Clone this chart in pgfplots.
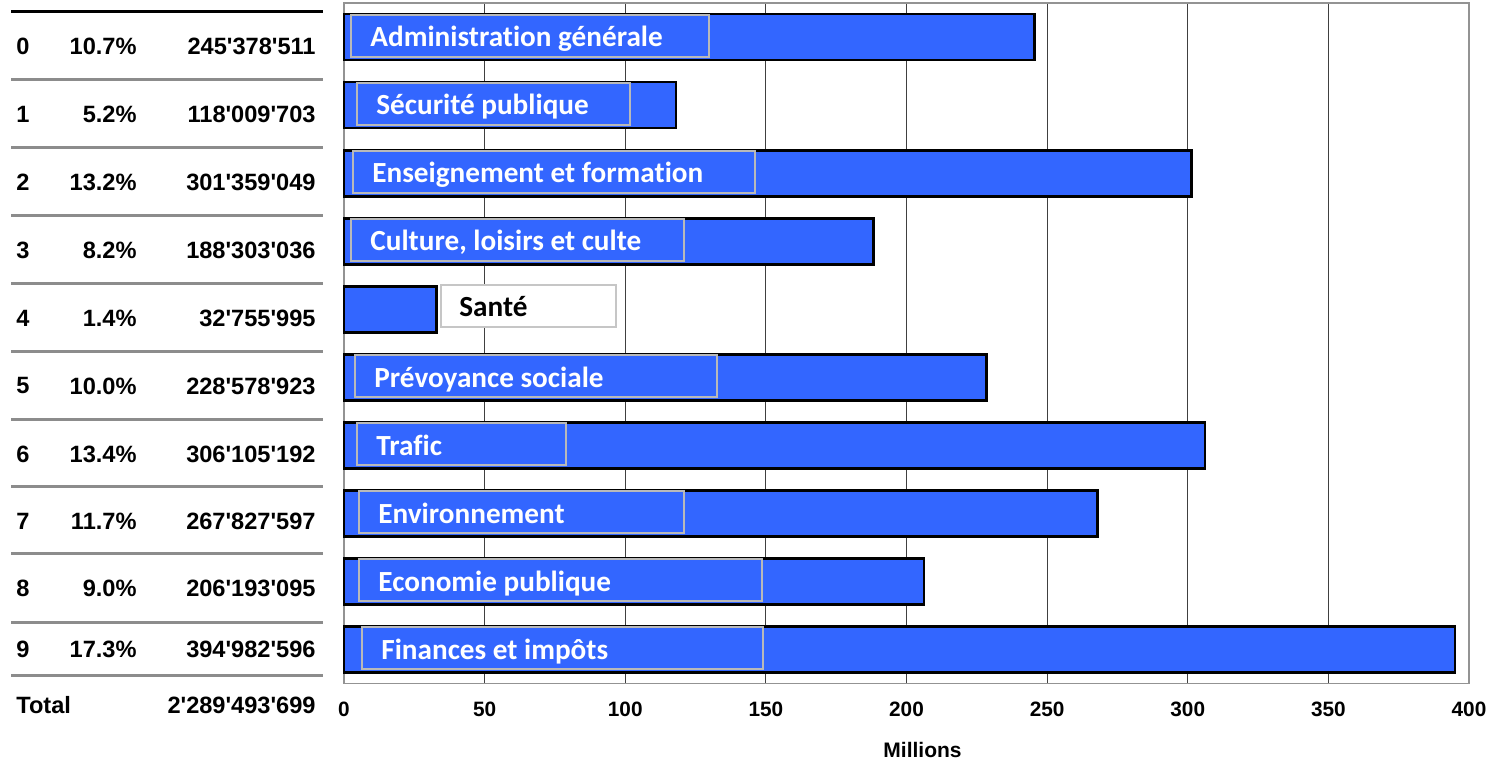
\documentclass[border=0pt]{standalone}
\usepackage{fontspec}
\setmainfont{Liberation Sans}
\newfontfamily\calib{Carlito}[Ligatures=NoCommon]
\usepackage{pgfplots}
\pgfplotsset{compat=1.18}
\definecolor{barblue}{HTML}{3366FF}
\tikzset{
  labbox/.style={anchor=west, draw=gray!55, line width=1pt, fill=barblue,
    inner sep=0pt, minimum height=21pt},
  labtxt/.style={anchor=base west, inner sep=0pt, text=white,
    font=\calib\fontsize{14.6}{16}\selectfont\bfseries}}
\newcommand\q{\textquotesingle}
\newcommand\lab[4]{%
  \node[labbox, minimum width=#2pt] (n#3) at ([xshift=#1pt, yshift=0.5pt]axis cs:0,#3) {};
  \node[labtxt] at ([xshift=10pt, yshift=-5.4pt]n#3.west) {#4};}
\begin{document}
\begin{tikzpicture}
\useasboundingbox (0,0) rectangle (746pt,381.5pt);
% left table
\draw[black, line width=1.5pt] (5.5pt,375.5pt) -- (161.5pt,375.5pt);
\foreach \y in {341.5,307.5,273.5,239.5,205.5,171.5,138,104.5,70,43.5}
  \draw[gray!90, line width=1.5pt] (5.5pt,\y pt) -- (161.5pt,\y pt);
\begin{scope}[every node/.style={inner sep=0pt, font=\fontsize{11.8}{14}\selectfont\bfseries}]
\foreach \i/\y/\p/\a in {0/358.5/10.7/245\q378\q511, 1/324.5/5.2/118\q009\q703, 2/290.5/13.2/301\q359\q049, 3/256.5/8.2/188\q303\q036, 4/222.5/1.4/32\q755\q995, 5/188.5/10.0/228\q578\q923, 6/154.5/13.4/306\q105\q192, 7/121/11.7/267\q827\q597, 8/87.25/9.0/206\q193\q095, 9/56.75/17.3/394\q982\q596}{
  \node[anchor=west] at (8pt,\y pt) {\i};
  \node[anchor=east] at (68.5pt,\y pt) {\p\%};
  \node[anchor=east] at (158pt,\y pt) {\a};
}
\node[anchor=west] at (8pt,29pt) {Total};
\node[anchor=east] at (158pt,29pt) {2\q289\q493\q699};
\end{scope}
\begin{axis}[
  at={(172pt,39.75pt)}, anchor=south west,
  scale only axis, width=562.5pt, height=340.25pt,
  xbar, bar width=23pt,
  xmin=0, xmax=400, ymin=-0.5, ymax=9.5, y dir=reverse,
  ytick=\empty, xtick={0,50,...,400},
  xmajorgrids, major grid style={black!75, line width=0.5pt},
  axis line style={draw=gray!85, line width=0.9pt},
  major tick length=0pt,
  /pgf/number format/assume math mode=true,
  xticklabel style={font=\fontsize{10.4}{12}\selectfont\bfseries, yshift=-5.5pt},
  xlabel={Millions},
  xlabel style={font=\fontsize{10.5}{12}\selectfont\bfseries, at={(axis description cs:0.5,0)}, anchor=center, yshift=-33.25pt, xshift=8pt},
  clip=false,
]
\addplot[fill=barblue, draw=black, line width=1.4pt] coordinates {
  (245.378511,0) (118.009703,1) (301.359049,2) (188.303036,3) (32.755995,4)
  (228.578923,5) (306.105192,6) (267.827597,7) (206.193095,8) (394.982596,9)};
\lab{3}{179}{0}{Administration générale}
\lab{6}{136.5}{1}{Sécurité publique}
\lab{4}{201}{2}{Enseignement et formation}
\lab{3}{166.5}{3}{Culture, loisirs et culte}
\node[labbox, minimum width=87.5pt, fill=white, draw=gray!45] (n4) at ([xshift=48pt, yshift=1.5pt]axis cs:0,4) {};
\node[labtxt, text=black] at ([xshift=9.5pt, yshift=-5.2pt]n4.west) {Santé};
\lab{5}{181}{5}{Prévoyance sociale}
\lab{6}{104.5}{6}{Trafic}
\lab{7}{162.5}{7}{Environnement}
\lab{7}{201.5}{8}{Economie publique}
\lab{8.5}{200.5}{9}{Finances et impôts}
\end{axis}
\end{tikzpicture}
\end{document}
